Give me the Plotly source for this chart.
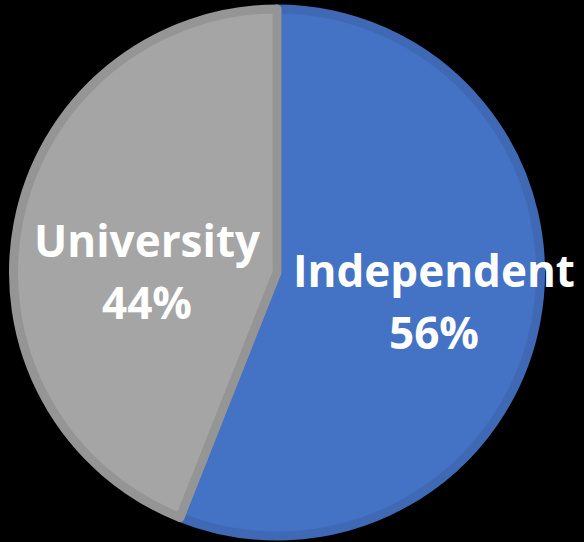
import plotly.graph_objects as go

labels = ["Independent", "University"]
values = [56, 44]
fill_colors = ["#4472C4", "#A5A5A5"]
line_colors = ["#3F69B5", "#959595"]
label_pos = [(434, 270), (147, 240)]  # pixel centers of the name line

W, H = 584, 542
fig = go.Figure(go.Pie(
    labels=labels, values=values, sort=False, direction="clockwise", rotation=0,
    marker=dict(colors=fill_colors, line=dict(color=line_colors, width=9)),
    textinfo="none", hoverinfo="label+percent", showlegend=False,
    domain=dict(x=[13.5 / W, 540.5 / W], y=[6 / H, 533 / H]),
))

total = sum(values)
for lab, v, (px, py) in zip(labels, values, label_pos):
    pct = f"{round(100 * v / total)}%"
    for txt, yy in ((lab, py), (pct, py + 62)):
        fig.add_annotation(x=px / W, y=1 - yy / H, xref="paper", yref="paper",
                           text=f"<b>{txt}</b>", showarrow=False,
                           xanchor="center", yanchor="middle",
                           font=dict(family="Open Sans", size=44, color="white"))

fig.update_layout(width=W, height=H, margin=dict(l=0, r=0, t=0, b=0),
                  paper_bgcolor="black", plot_bgcolor="black")
fig.write_html("out.html")
